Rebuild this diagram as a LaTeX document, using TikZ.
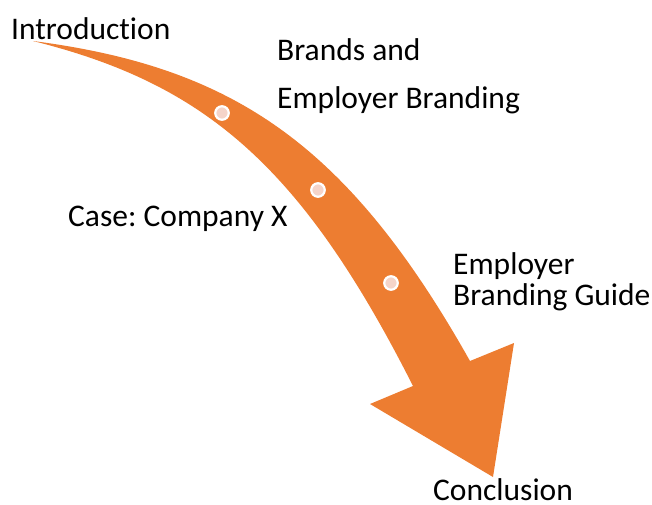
\documentclass[tikz,border=0pt]{standalone}
\usepackage{fontspec}
\setmainfont{Carlito}[Ligatures={NoCommon,NoContextual}]
\definecolor{arroworange}{HTML}{ED7D31}
\definecolor{dotpink}{HTML}{F5D4C9}
\frenchspacing
\begin{document}
\begin{tikzpicture}[x=1pt,y=-1pt,
  lbl/.style={anchor=base west, inner sep=0pt, font=\fontsize{31.5}{36}\selectfont},
  dot/.style={circle, fill=dotpink, draw=white, line width=2.2pt, minimum size=13.5pt, inner sep=0pt}]
\useasboundingbox (0,0) rectangle (652,505);
\fill[arroworange] (33,41) .. controls (233,67) and (347.5,143.5) .. (470,361)
  -- (514,343) -- (493,477) -- (370,404) -- (413,386)
  .. controls (300.5,163.5) and (203,83.5) .. (33,41) -- cycle;
\node[dot] (d1) at (222,113) {};
\node[dot] (d2) at (318,190) {};
\node[dot] (d3) at (391,283) {};
\node[lbl] (intro) at (11,40) {Introduction};
\node[lbl] (brands1) at (277,61) {Brands and};
\node[lbl] (brands2) at (277,109) {Employer Branding};
\node[lbl] (case) at (68,226) {Case: Company X};
\node[lbl] (guide1) at (453,274) {Employer};
\node[lbl] (guide2) at (453,305) {Branding Guide};
\node[lbl] (concl) at (433,500) {Conclusion};
\end{tikzpicture}
\end{document}
